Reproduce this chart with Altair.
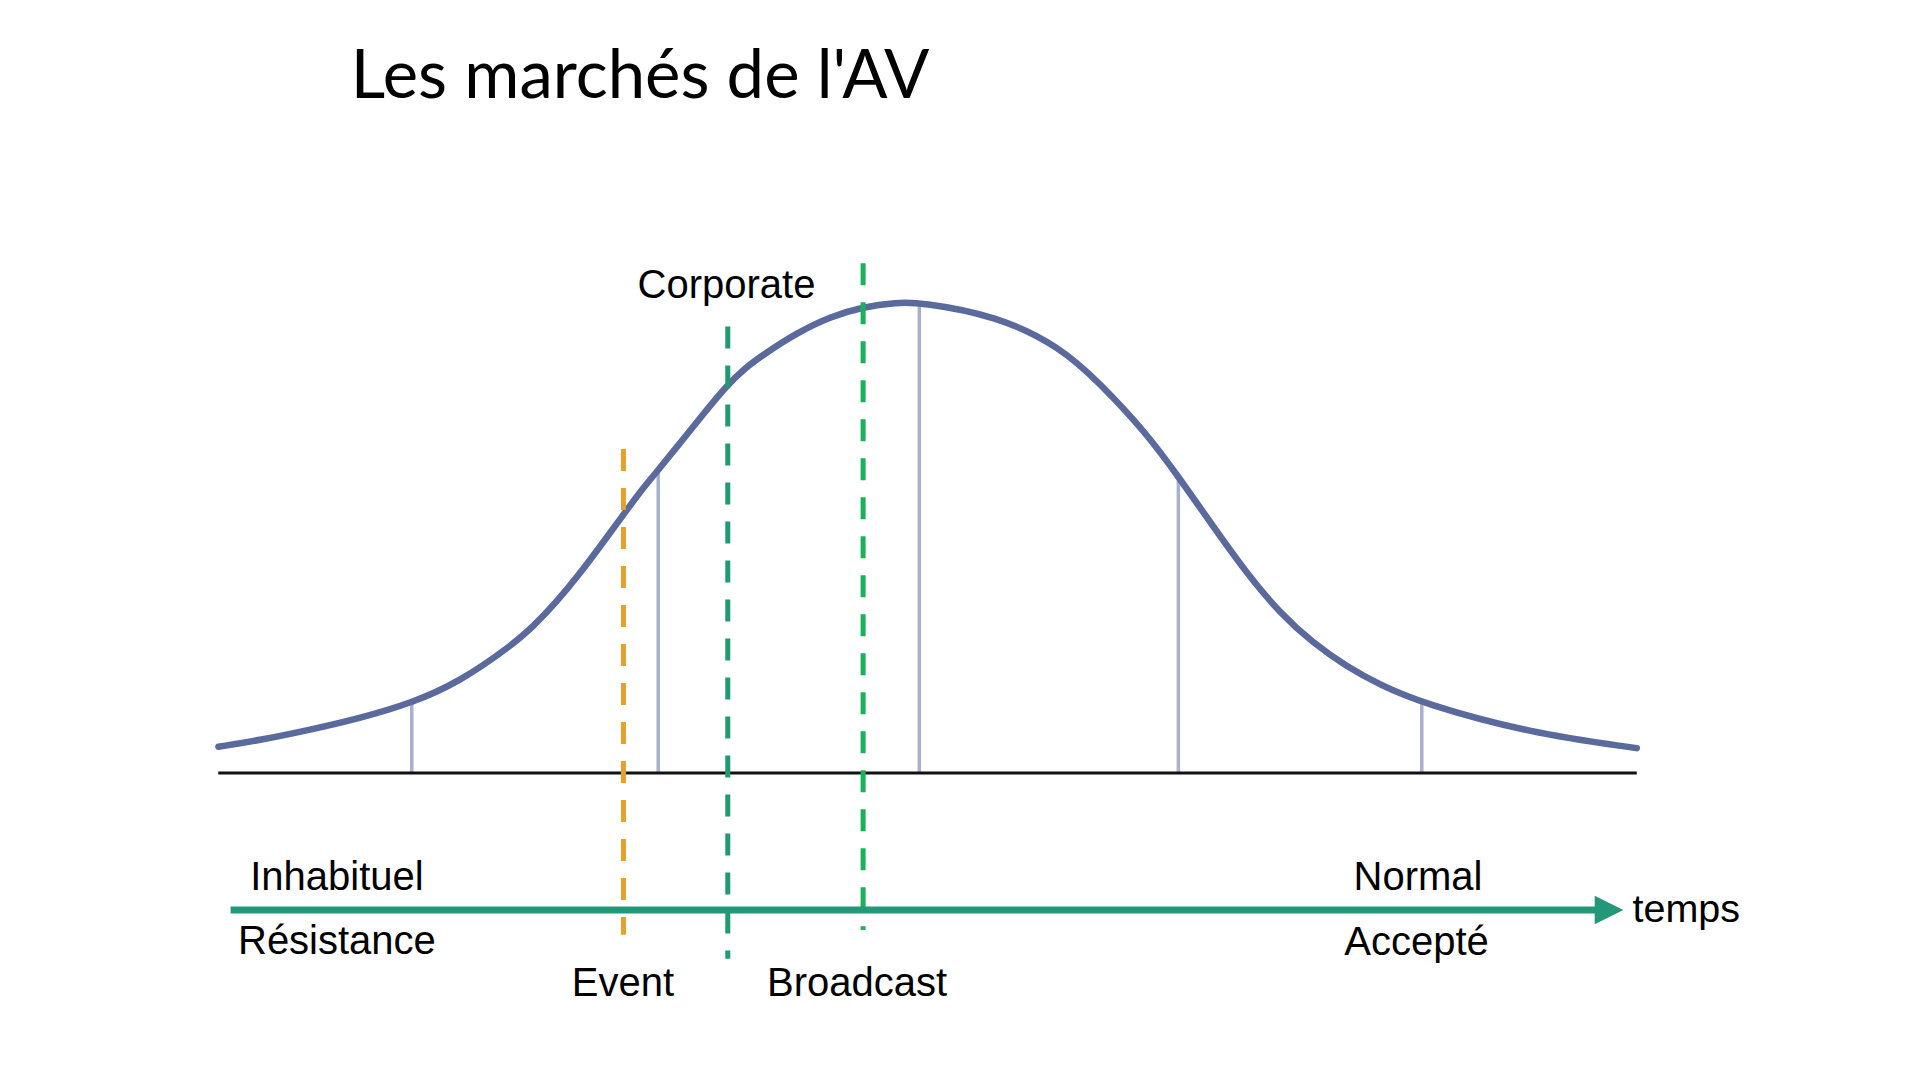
import altair as alt
import pandas as pd

# ---- data (x in "sigma" units, y as height relative to the peak) ----
curve_x = [-2.781, -2.616, -2.418, -2.219, -2.014, -1.823, -1.625, -1.532, -1.439, -1.346,
           -1.267, -1.175, -1.108, -1.036, -0.937, -0.850, -0.764, -0.690, -0.619, -0.487,
           -0.354, -0.222, -0.090, 0.0, 0.308, 0.558, 0.717, 0.902, 1.028, 1.167,
           1.299, 1.431, 1.563, 1.696, 1.828, 1.994, 2.423, 2.847]
curve_y = [0.056, 0.070, 0.092, 0.117, 0.149, 0.195, 0.269, 0.312, 0.365, 0.426,
           0.483, 0.550, 0.600, 0.646, 0.712, 0.770, 0.826, 0.864, 0.892, 0.938,
           0.973, 0.994, 1.003, 1.004, 0.975, 0.909, 0.831, 0.724, 0.632, 0.525,
           0.426, 0.341, 0.277, 0.227, 0.188, 0.149, 0.085, 0.053]

marker_x = [-2.014, -1.036, 0.0, 1.028, 1.994]
marker_top = [0.147, 0.643, 1.0, 0.629, 0.147]

axis_start = [-2.782]
axis_end = [2.847]

market_names = ["Event", "Corporate", "Broadcast"]
market_x = [-1.174, -0.760, -0.223]
market_top = [0.691, 0.952, 1.087]
market_bottom = [-0.345, -0.396, -0.335]
market_colors = ["#e8a128", "#1f9a72", "#19b25a"]

time_start = [-2.733]
time_end = [2.71]
time_level = [-0.292]
arrow_head_x = [2.737]

labels = ["Corporate", "Inhabituel", "Résistance", "Normal", "Accepté", "Event", "Broadcast"]
label_x = [-0.765, -2.311, -2.311, 1.979, 1.973, -1.176, -0.247]
label_y = [1.012, -0.249, -0.386, -0.249, -0.388, -0.4755, -0.4755]

time_label = ["temps"]
time_label_x = [2.830]
time_label_y = [-0.317]

title_text = ["Les marchés de l'AV"]
title_x = [-2.256]
title_y = [1.4386]

# ---- layout ----
W, H = 1880, 1040
PX_PER_U, PX_PER_H = 252.0, 469.0
X0_PIX, Y0_PIX = 919.3 - 8, 773.0 - 8  # page position of (0,0) minus the 8px page margin
U0 = -X0_PIX / PX_PER_U
U1 = (W - X0_PIX) / PX_PER_U
H1 = Y0_PIX / PX_PER_H
H0 = (Y0_PIX - H) / PX_PER_H

xs = alt.Scale(domain=[U0, U1], nice=False, zero=False)
ys = alt.Scale(domain=[H0, H1], nice=False, zero=False)


def X(f="x"):
    return alt.X(f"{f}:Q", scale=xs, axis=None)


def Y(f="y"):
    return alt.Y(f"{f}:Q", scale=ys, axis=None)


curve_df = pd.DataFrame({"x": curve_x, "y": curve_y})
marker_df = pd.DataFrame({"x": marker_x, "y": [0.0] * len(marker_x), "y2": marker_top})
axis_df = pd.DataFrame({"x": axis_start, "x2": axis_end, "y": [0.0]})
market_df = pd.DataFrame({"name": market_names, "x": market_x, "y": market_top,
                          "y2": market_bottom, "c": market_colors})
time_df = pd.DataFrame({"x": time_start, "x2": time_end, "y": time_level})
head_df = pd.DataFrame({"x": arrow_head_x, "y": time_level})
label_df = pd.DataFrame({"t": labels, "x": label_x, "y": label_y})
tlabel_df = pd.DataFrame({"t": time_label, "x": time_label_x, "y": time_label_y})
title_df = pd.DataFrame({"t": title_text, "x": title_x, "y": title_y})

markers = alt.Chart(marker_df).mark_rule(color="#a7b0cc", strokeWidth=3.5).encode(
    x=X(), y=Y(), y2="y2:Q")

curve = alt.Chart(curve_df).mark_line(color="#5a6a9c", strokeWidth=6.5, interpolate="basis",
                                      strokeCap="round", strokeJoin="round").encode(
    x=X(), y=Y(), order="x:Q")

baseline = alt.Chart(axis_df).mark_rule(color="#111111", strokeWidth=3).encode(
    x=X(), x2="x2:Q", y=Y())

dashed = alt.Chart(market_df).mark_rule(strokeWidth=5, strokeDash=[22, 17]).encode(
    x=X(), y=Y(), y2="y2:Q", color=alt.Color("c:N", scale=None))

time_line = alt.Chart(time_df).mark_rule(color="#23977a", strokeWidth=7).encode(
    x=X(), x2="x2:Q", y=Y())

head = alt.Chart(head_df).mark_point(shape="M-1,-1L1,0L-1,1Z", filled=True, opacity=1,
                                     color="#23977a", size=820).encode(x=X(), y=Y())

texts = alt.Chart(label_df).mark_text(font="Liberation Sans", fontSize=40, align="center",
                                      baseline="alphabetic", color="#000000").encode(
    x=X(), y=Y(), text="t:N")

ttext = alt.Chart(tlabel_df).mark_text(font="Liberation Sans", fontSize=39.5, align="left",
                                       baseline="alphabetic", color="#000000").encode(
    x=X(), y=Y(), text="t:N")

title = alt.Chart(title_df).mark_text(font="Lato", fontSize=67, align="left",
                                      baseline="alphabetic", color="#000000").encode(
    x=X(), y=Y(), text="t:N")

chart = alt.layer(markers, curve, baseline, dashed, time_line, head, texts, ttext, title).properties(
    width=W, height=H, padding=0,
    autosize=alt.AutoSizeParams(type="none"),
    background="#ffffff",
).configure_view(stroke=None)

chart.save("out.html", embed_options={"renderer": "svg", "actions": False})
